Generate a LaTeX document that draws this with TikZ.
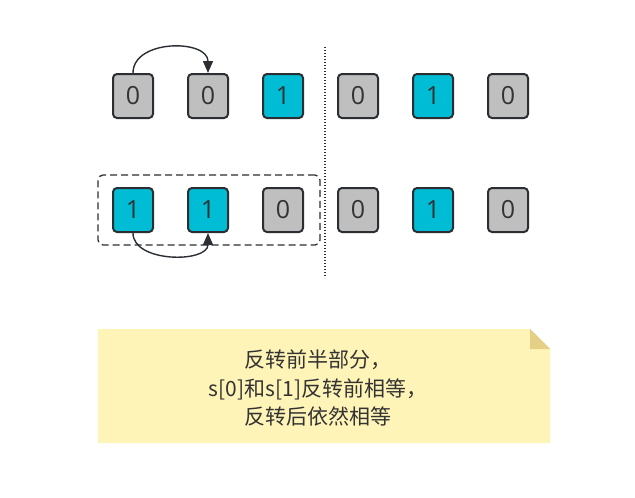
\documentclass[tikz,border=0pt]{standalone}
\usepackage{fontspec}
\setmainfont{Open Sans}
\newfontfamily\cjk{Noto Sans CJK SC}
\usetikzlibrary{arrows.meta}
\definecolor{gbox}{HTML}{BFBFBF}
\definecolor{cbox}{HTML}{00BCD4}
\definecolor{edge}{HTML}{2B2F33}
\definecolor{notefill}{HTML}{FFF4B8}
\definecolor{notefold}{HTML}{E5CE86}
\definecolor{txt}{HTML}{333333}
\begin{document}
\begin{tikzpicture}[x=1pt,y=-1pt,
  cell/.style={draw=edge,line width=2pt,rounded corners=4pt,minimum width=40pt,minimum height=44pt,inner sep=0pt,text=txt,font=\fontsize{25}{25}\selectfont},
  gcell/.style={cell,fill=gbox},
  ccell/.style={cell,fill=cbox},
  arr/.style={draw=edge,line width=1.4pt,-{Triangle[length=12pt,width=10pt]}}]
\useasboundingbox (0,0) rectangle (635,498);
\fill[white] (0,0) rectangle (635,498);
% row 1
\node[gcell] (a1) at (133,96) {0};
\node[gcell] (a2) at (208,96) {0};
\node[ccell] (a3) at (283,96) {1};
\node[gcell] (a4) at (358,96) {0};
\node[ccell] (a5) at (433,96) {1};
\node[gcell] (a6) at (508,96) {0};
% row 2
\node[ccell] (b1) at (133,210) {1};
\node[ccell] (b2) at (208,210) {1};
\node[gcell] (b3) at (283,210) {0};
\node[gcell] (b4) at (358,210) {0};
\node[ccell] (b5) at (433,210) {1};
\node[gcell] (b6) at (508,210) {0};
% dashed group
\node[draw=edge,line width=1.3pt,dash pattern=on 7pt off 4pt,rounded corners=5pt,minimum width=222pt,minimum height=70pt] (grp) at (209,210) {};
% divider
\coordinate (d1) at (325,47);
\coordinate (d2) at (325,278);
\draw[edge,line width=1.2pt,dash pattern=on 1.2pt off 1.8pt] (d1) -- (d2);
% arrows
\draw[arr] (a1.north) .. controls ([yshift=34pt]a1.north) and ([yshift=34pt]a2.north) .. (a2.north);
\draw[arr] (b1.south) .. controls ([yshift=-30pt]b1.south) and ([yshift=-30pt]b2.south) .. (b2.south);
% note
\fill[notefill] (98,329) -- (530,329) -- (550,349) -- (550,443) -- (98,443) -- cycle;
\fill[notefold] (530,329) -- (530,349) -- (550,349) -- cycle;
\node[text=txt,font=\cjk\fontsize{21}{28.5}\selectfont,align=center] (note) at (318,388) {反转前半部分，\\s[0]和s[1]反转前相等，\\反转后依然相等};
\end{tikzpicture}
\end{document}
